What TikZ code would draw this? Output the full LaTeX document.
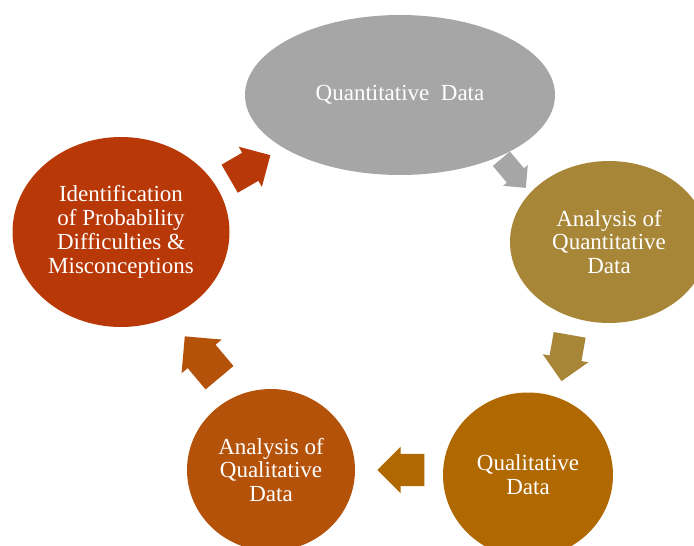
\documentclass[tikz,border=0pt]{standalone}
\usepackage{fontspec}
\setmainfont{Liberation Serif}
\usetikzlibrary{shapes.geometric}
\usetikzlibrary{shapes.arrows}
\definecolor{quantgray}{RGB}{166,166,166}
\definecolor{quantgold}{RGB}{168,134,56}
\definecolor{qualbrown}{RGB}{176,104,0}
\definecolor{qualrust}{RGB}{180,82,10}
\definecolor{idred}{RGB}{184,56,8}

\begin{document}
\begin{tikzpicture}[x=1pt, y=-1pt,
	stage/.style={ellipse, inner sep=0pt, text=white, align=center, font=\fontsize{23}{23.8}\selectfont},
	turn/.style={single arrow, draw=none, inner xsep=0pt, inner ysep=16pt, minimum height=47pt, single arrow head extend=7pt}]
	\clip (0, 0) rectangle (694, 546);
	\node [stage, fill=quantgray, minimum width=310pt, minimum height=160pt] (quant) at (400, 95) {Quantitative\ \ Data};
	\node [stage, fill=quantgold, minimum width=198pt, minimum height=162pt] (aquant) at (609, 242) {Analysis of\\Quantitative\\Data};
	\node [stage, fill=qualbrown, minimum width=170pt, minimum height=165pt] (qual) at (528, 475) {Qualitative\\Data};
	\node [stage, fill=qualrust, minimum width=168pt, minimum height=162pt] (aqual) at (271, 470) {Analysis of\\Qualitative\\Data};
	\node [stage, fill=idred, minimum width=217pt, minimum height=190pt] (ident) at (121, 232) {Identification\\of Probability\\Difficulties \&\\Misconceptions};
	\node [turn, fill=idred, rotate=30] (t1) at (243, 171) {};
	\node [turn, fill=quantgray, rotate=-50, inner ysep=11pt, minimum height=38pt, single arrow head extend=5pt] (t2) at (510, 169) {};
	\node [turn, fill=quantgold, rotate=-100] (t3) at (567, 350) {};
	\node [turn, fill=qualbrown, rotate=180] (t4) at (409, 470) {};
	\node [turn, fill=qualrust, rotate=130, inner ysep=18pt, minimum height=54pt, single arrow head extend=8pt] (t5) at (208, 364) {};
\end{tikzpicture}
\end{document}
